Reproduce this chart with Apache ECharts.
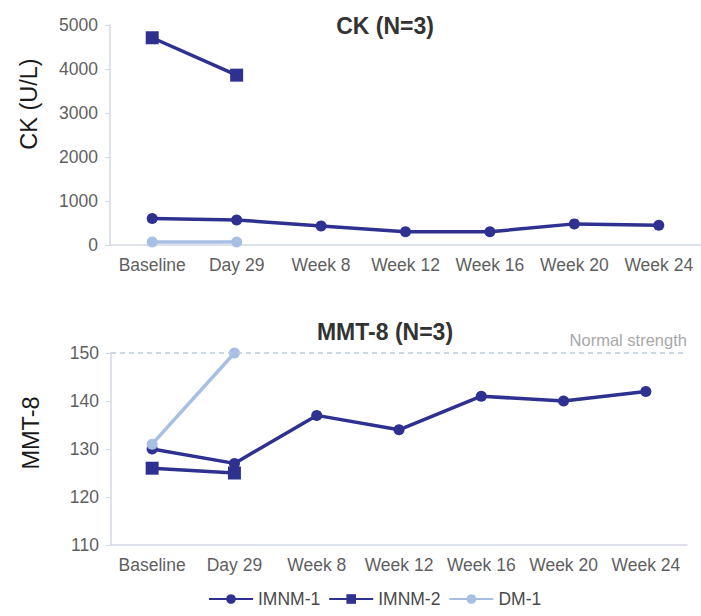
<!DOCTYPE html>
<html>
<head>
<meta charset="utf-8">
<script src="https://cdn.jsdelivr.net/npm/echarts@6/dist/echarts.min.js"></script>
<style>
html,body{margin:0;padding:0;background:#fff;}
#c{width:701px;height:616px;}
</style>
</head>
<body>
<div id="c"></div>
<script>
var categories = ['Baseline', 'Day 29', 'Week 8', 'Week 12', 'Week 16', 'Week 20', 'Week 24'];
var ckTicks = [0, 1000, 2000, 3000, 4000, 5000];
var mmtTicks = [110, 120, 130, 140, 150];
var ckImnm1 = [600, 570, 430, 300, 300, 480, 450];
var ckImnm2 = [4710, 3860, null, null, null, null, null];
var ckDm1 = [70, 70, null, null, null, null, null];
var mmtImnm1 = [130, 127, 137, 134, 141, 140, 142];
var mmtImnm2 = [126, 125, null, null, null, null, null];
var mmtDm1 = [131, 150, null, null, null, null, null];
var normalStrength = 150;

var NAVY = '#2e3190';
var LIGHT = '#a7bfe2';
var AXIS = '#d3d8e3';
var LABEL = '#5f5f5f';
var FONT = 'Liberation Sans, Arial, sans-serif';

var chart = echarts.init(document.getElementById('c'), null, {renderer: 'svg'});

function xAx(idx) {
  return {
    type: 'category', gridIndex: idx, data: categories, boundaryGap: true,
    axisLine: {lineStyle: {color: AXIS, width: 1.5}},
    axisTick: {show: false},
    axisLabel: {color: LABEL, fontSize: 17.5, fontFamily: FONT, margin: 11,
                interval: 0, hideOverlap: false}
  };
}
function yAx(idx, ticks) {
  return {
    type: 'value', gridIndex: idx,
    min: ticks[0], max: ticks[ticks.length - 1], interval: ticks[1] - ticks[0],
    axisLine: {show: true, lineStyle: {color: AXIS, width: 1.5}},
    axisTick: {show: true, length: 5, lineStyle: {color: AXIS}},
    splitLine: {show: false},
    axisLabel: {color: LABEL, fontSize: 17.5, fontFamily: FONT, margin: 12,
                formatter: function (v) { return String(v); }}
  };
}
function ser(name, gi, data, symbol, color, size, extra) {
  var s = {
    name: name, type: 'line', xAxisIndex: gi, yAxisIndex: gi, data: data,
    symbol: symbol, symbolSize: size, showAllSymbol: true,
    lineStyle: {color: color, width: 3.5},
    itemStyle: {color: color},
    connectNulls: false, animation: false
  };
  if (extra) for (var k in extra) s[k] = extra[k];
  return s;
}

var option = {
  animation: false,
  backgroundColor: '#fff',
  title: [
    {text: 'CK (N=3)', left: 380, top: 9, textAlign: 'center',
     textStyle: {fontSize: 23, fontWeight: 'bold', color: '#333', fontFamily: FONT}},
    {text: 'MMT-8 (N=3)', left: 380, top: 315, textAlign: 'center',
     textStyle: {fontSize: 23, fontWeight: 'bold', color: '#333', fontFamily: FONT}}
  ],
  grid: [
    {left: 110, top: 25, width: 593, height: 220},
    {left: 111, top: 353, width: 576, height: 192}
  ],
  xAxis: [xAx(0), xAx(1)],
  yAxis: [yAx(0, ckTicks), yAx(1, mmtTicks)],
  legend: {
    data: ['IMNM-1', 'IMNM-2', 'DM-1'],
    left: 203, top: 585,
    itemWidth: 44, itemHeight: 12, itemGap: 8,
    textStyle: {color: '#4a4a4a', fontSize: 17.5, fontFamily: FONT}
  },
  graphic: [
    {type: 'text', x: 29, y: 104, rotation: Math.PI / 2,
     style: {text: 'CK (U/L)', fill: '#1a1a1a', fontSize: 23.5, fontFamily: FONT, textAlign: 'center', textVerticalAlign: 'middle'}},
    {type: 'text', x: 31, y: 433, rotation: Math.PI / 2,
     style: {text: 'MMT-8', fill: '#1a1a1a', fontSize: 23.5, fontFamily: FONT, textAlign: 'center', textVerticalAlign: 'middle'}}
  ],
  series: [
    ser('IMNM-1', 0, ckImnm1, 'circle', NAVY, 11),
    ser('IMNM-2', 0, ckImnm2, 'rect', NAVY, 13),
    ser('DM-1', 0, ckDm1, 'circle', LIGHT, 11),
    ser('IMNM-1', 1, mmtImnm1, 'circle', NAVY, 11, {
      markLine: {
        silent: true, symbol: 'none',
        lineStyle: {color: '#b9c9e4', type: [5, 4], width: 1.5},
        label: {show: true, position: 'insideEndTop', formatter: 'Normal strength',
                color: '#a8a8a8', fontSize: 16.5, fontFamily: FONT, distance: [0, 5]},
        data: [{yAxis: normalStrength}]
      }
    }),
    ser('IMNM-2', 1, mmtImnm2, 'rect', NAVY, 13),
    ser('DM-1', 1, mmtDm1, 'circle', LIGHT, 11)
  ]
};
chart.setOption(option);
</script>
</body>
</html>
